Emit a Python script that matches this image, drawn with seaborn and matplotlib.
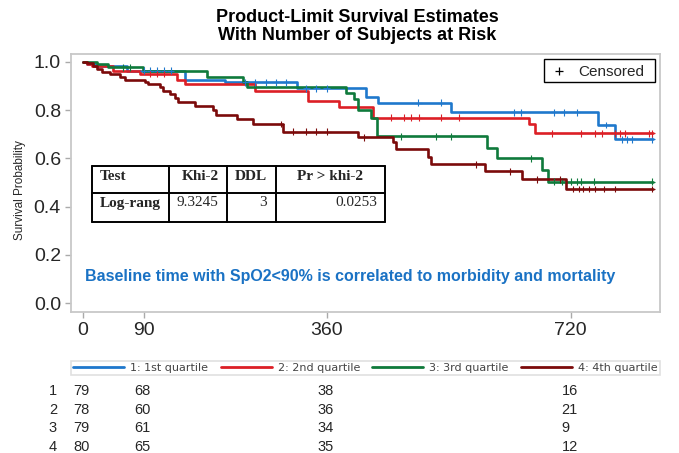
import numpy as np
import pandas as pd
import matplotlib
matplotlib.use("Agg")
import matplotlib.pyplot as plt
import seaborn as sns
from matplotlib.lines import Line2D
from matplotlib.patches import Rectangle
from matplotlib.transforms import blended_transform_factory, ScaledTranslation

# ---------------- data ----------------
groups = ["1: 1st quartile", "2: 2nd quartile", "3: 3rd quartile", "4: 4th quartile"]
colors = ["#1f78cc", "#dc1f26", "#0f7a3b", "#7b0a0a"]

q1_time = [0, 7, 18, 65, 151, 210, 317, 418, 436, 544, 761, 785]
q1_surv = [1.0, 0.99, 0.982, 0.963, 0.924, 0.915, 0.89, 0.855, 0.83, 0.79, 0.738, 0.679]

q2_time = [0, 7, 14, 44, 84, 139, 151, 255, 333, 378, 428, 658, 667]
q2_surv = [1.0, 0.99, 0.982, 0.961, 0.949, 0.924, 0.906, 0.88, 0.839, 0.811, 0.768, 0.742, 0.704]

q3_time = [0, 21, 37, 89, 184, 236, 243, 388, 400, 407, 426, 434, 596, 612, 678, 687]
q3_surv = [1.0, 0.99, 0.977, 0.961, 0.935, 0.915, 0.894, 0.869, 0.844, 0.80, 0.766, 0.692,
           0.644, 0.60, 0.552, 0.503]

q4_time = [0, 6, 15, 21, 28, 40, 55, 62, 92, 96, 114, 119, 129, 136, 141, 166, 193, 196,
           228, 252, 295, 406, 458, 462, 510, 514, 593, 649, 713]
q4_surv = [1.0, 0.993, 0.982, 0.970, 0.959, 0.949, 0.938, 0.924, 0.915, 0.906, 0.894, 0.880,
           0.865, 0.848, 0.832, 0.817, 0.80, 0.779, 0.763, 0.742, 0.710, 0.687, 0.669, 0.639,
           0.607, 0.576, 0.547, 0.514, 0.473]

end_time = 841

q1_cens = [90, 100, 110, 120, 130, 240, 255, 270, 285, 300, 330, 345, 360, 495, 529, 637, 647,
           695, 710, 729, 773, 796, 803, 810, 840]
q2_cens = [100, 110, 120, 455, 474, 484, 496, 529, 556, 692, 736, 756, 766, 785, 793, 800, 836, 840]
q3_cens = [60, 70, 470, 521, 544, 662, 695, 707, 721, 729, 736, 754, 840]
q4_cens = [292, 311, 330, 345, 361, 415, 581, 630, 670, 704, 724, 732, 739, 747, 756, 769, 785, 840]

risk_times = [0, 90, 360, 720]
risk_q1 = [79, 68, 38, 16]
risk_q2 = [78, 60, 36, 21]
risk_q3 = [79, 61, 34, 9]
risk_q4 = [80, 65, 35, 12]

test_header = ["Test", "Khi-2", "DDL", "Pr > khi-2"]
test_row = ["Log-rang", "9.3245", "3", "0.0253"]

note = "Baseline time with SpO2<90% is correlated to morbidity and mortality"

# ---------------- build tables ----------------
times = [q1_time, q2_time, q3_time, q4_time]
survs = [q1_surv, q2_surv, q3_surv, q4_surv]
cens = [q1_cens, q2_cens, q3_cens, q4_cens]
risks = [risk_q1, risk_q2, risk_q3, risk_q4]

rows = []
crows = []
for g, t, s, c in zip(groups, times, survs, cens):
    tt = list(t) + [end_time]
    ss = list(s) + [s[-1]]
    for a, b in zip(tt, ss):
        rows.append((g, a, b))
    ta = np.array(t)
    sa = np.array(s)
    for ct in c:
        idx = np.searchsorted(ta, ct, side="right") - 1
        crows.append((g, ct, sa[idx]))
df = pd.DataFrame(rows, columns=["group", "day", "surv"])
cdf = pd.DataFrame(crows, columns=["group", "day", "surv"])

# ---------------- plot ----------------
sns.set_style("white")
plt.rcParams["font.family"] = ["Liberation Sans", "DejaVu Sans"]

W, H = 679, 453
fig = plt.figure(figsize=(W / 100, H / 100), dpi=100)

def fx(x):
    return x / W

def fy(y):
    return 1 - y / H

ax = fig.add_axes([fx(70.7), fy(312), fx(660) - fx(70.7), fy(54) - fy(312)])

pal = dict(zip(groups, colors))
sns.lineplot(data=df, x="day", y="surv", hue="group", palette=pal, estimator=None,
             drawstyle="steps-post", linewidth=1.9, legend=False, ax=ax)
sns.scatterplot(data=cdf, x="day", y="surv", hue="group", palette=pal, marker="+",
                s=24, linewidth=0.8, legend=False, ax=ax, zorder=3)

ax.set_xlim(-17.7, 852)
ax.set_ylim(-0.036, 1.032)
ax.set_xticks(risk_times)
ax.set_xticklabels([str(t) for t in risk_times])
ax.set_yticks([0.0, 0.2, 0.4, 0.6, 0.8, 1.0])
ax.set_yticklabels(["0.0", "0.2", "0.4", "0.6", "0.8", "1.0"])
ax.set_xlabel("")
ax.set_ylabel("")
ax.tick_params(axis="both", which="both", length=4, width=1, color="#aaaaaa",
               labelsize=14, pad=3, direction="out", bottom=True, left=True)
for sp in ax.spines.values():
    sp.set_color("#c8c8c8")
    sp.set_linewidth(1.3)

# censored legend box (manual)
fig.add_artist(Rectangle((fx(544), fy(82)), fx(655) - fx(544), fy(59) - fy(82),
                         transform=fig.transFigure, facecolor="white", edgecolor="black",
                         linewidth=1.0, zorder=5))
fig.add_artist(Line2D([fx(559)], [fy(71)], marker="+", color="black", markersize=6,
                      markeredgewidth=0.9, linestyle="none", transform=fig.transFigure,
                      zorder=6))
fig.text(fx(578), fy(71.5), "Censored", ha="left", va="center", fontsize=11, zorder=6)

# note
ax.text((85 - 70.7) / 589.3, (312 - 276) / 258, note, transform=ax.transAxes,
        color="#1a72c4", fontsize=11.5, fontweight="bold", va="center", ha="left")

# titles
fig.text(fx(357), fy(18), "Product-Limit Survival Estimates", ha="center", va="center",
         fontsize=13, fontweight="bold", color="black")
fig.text(fx(357), fy(35), "With Number of Subjects at Risk", ha="center", va="center",
         fontsize=13, fontweight="bold", color="black")

# y label
fig.text(fx(20), fy(190), "Survival Probability", rotation=90, ha="center", va="center",
         fontsize=8.5)

# stats table
tx0, tx1 = 91.7, 385
ty0, tym, ty1 = 166, 193, 221.7
vcols = [169, 227, 276]
lw = 1.4
for (xa, ya, xb, yb) in [(tx0, ty0, tx1, ty0), (tx0, tym, tx1, tym), (tx0, ty1, tx1, ty1),
                         (tx0, ty0, tx0, ty1), (tx1, ty0, tx1, ty1)] + \
                        [(v, ty0, v, ty1) for v in vcols]:
    fig.add_artist(Line2D([fx(xa), fx(xb)], [fy(ya), fy(yb)], color="black", linewidth=lw,
                          transform=fig.transFigure))
serif = ["Liberation Serif", "DejaVu Serif"]
hdr_pos = [(100, "left"), (219, "right"), (251, "center"), (330, "center")]
for (xp, ha), txt in zip(hdr_pos, test_header):
    fig.text(fx(xp), fy(179.5), txt, ha=ha, va="baseline", fontsize=11, fontweight="bold",
             family=serif)
row_pos = [(100, "left", "bold"), (218, "right", "normal"), (267, "right", "normal"),
           (377, "right", "normal")]
for (xp, ha, fw), txt in zip(row_pos, test_row):
    fig.text(fx(xp), fy(206.5), txt, ha=ha, va="baseline", fontsize=11, fontweight=fw,
             family=serif)

# group legend at bottom
handles = [Line2D([], [], color=c, linewidth=2) for c in colors]
gleg = fig.legend(handles, groups, loc="lower left",
                  bbox_to_anchor=(fx(71), fy(375), fx(660) - fx(71), fy(359) - fy(375)),
                  mode="expand", ncol=4, prop={"family": "DejaVu Sans", "size": 8},
                  frameon=True, fancybox=False, edgecolor="#d8d8d8", borderpad=0.2,
                  handlelength=4.6, handletextpad=0.55, borderaxespad=0, columnspacing=1.0)
gleg.get_frame().set_linewidth(1.2)
for t in gleg.get_texts():
    t.set_color("#444444")

# risk table
row_y = [391, 409.5, 428, 447]
btrans = blended_transform_factory(ax.transData, fig.transFigure) + \
    ScaledTranslation(-9 / 100, 0, fig.dpi_scale_trans)
for i, (r, yy) in enumerate(zip(risks, row_y)):
    fig.text(fx(53), fy(yy), str(i + 1), ha="center", va="center", fontsize=10.5)
    for t, n in zip(risk_times, r):
        ax.text(t, fy(yy), str(n), transform=btrans, ha="left", va="center",
                fontsize=10.5, clip_on=False)

fig.savefig("out.png", dpi=100)
